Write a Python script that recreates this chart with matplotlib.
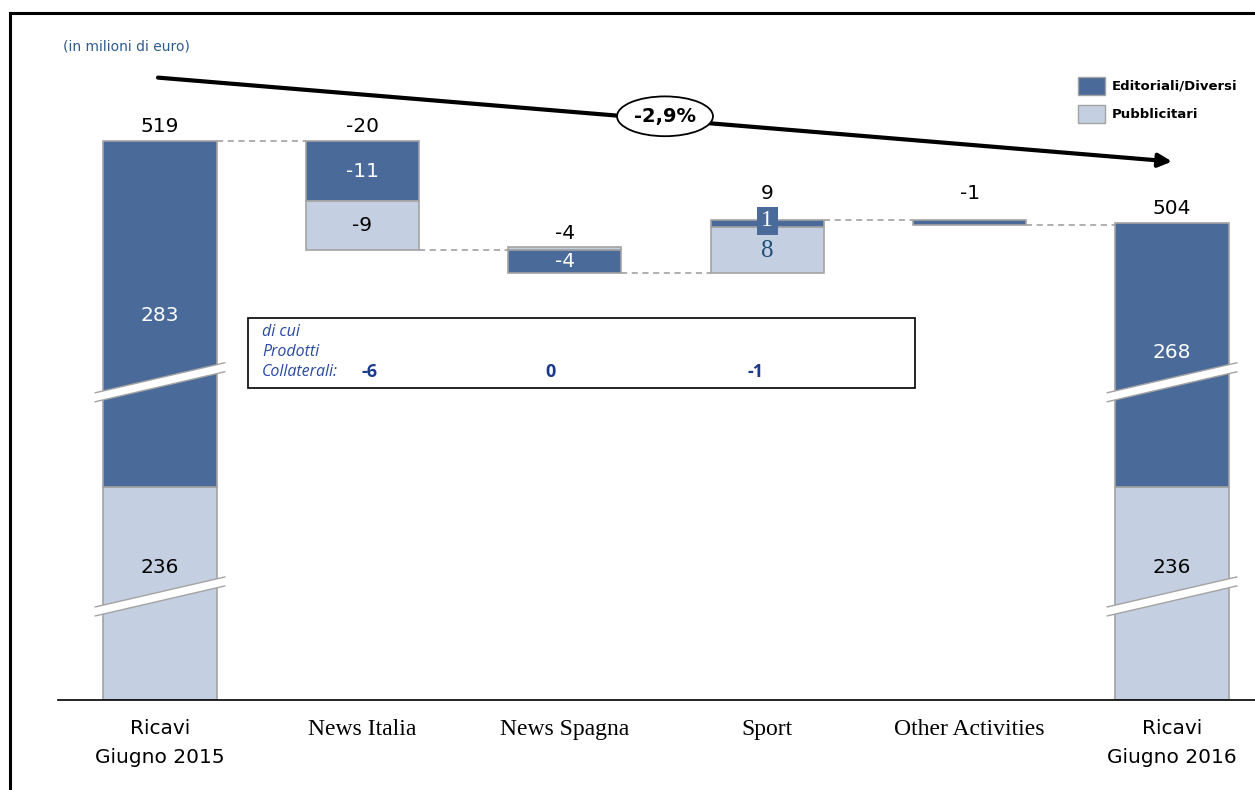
import matplotlib
matplotlib.use("Agg")
import matplotlib.pyplot as plt
from matplotlib.patches import Rectangle, Polygon, Ellipse
from matplotlib.lines import Line2D

# ---------------- data (milioni di euro) ----------------
categories = ["Ricavi\nGiugno 2015", "News Italia", "News Spagna", "Sport",
              "Other Activities", "Ricavi\nGiugno 2016"]
# totals: (pubblicitari, editoriali/diversi)
total_start = (236, 283)
total_end = (236, 268)
# changes per segment: (pubblicitari, editoriali/diversi)
delta_pub = [-9, 0.6, 8.4, 0]
delta_edit = [-11, -4.2, 1.4, -1.0]
delta_labels = ["-20", "-4", "9", "-1"]
pub_labels = ["-9", None, "8", None]
edit_labels = ["-11", "-4", "1", None]
collaterali = ["-6", "0", "-1"]
growth_label = "-2,9%"

DARK = "#4a6a9a"
LIGHT = "#c4cfe1"
EDGE = "#a3a3a3"

# vertical axis is broken on the total bars
CUT_LIGHT = 197.0
CUT_DARK = 219.5
BASE = CUT_LIGHT + CUT_DARK

W, H = 1255, 790
fig = plt.figure(figsize=(W / 100, H / 100), dpi=100)


def fx(x):
    return x / W


def fy(y):
    return 1 - y / H


ax = fig.add_axes([fx(58), fy(700), fx(1255 - 58), (700 - 20) / H])
ax.set_xlim(-0.504, 5.41)
ax.set_ylim(BASE, BASE + 680 / 5.45)
for s in ["left", "right", "top"]:
    ax.spines[s].set_visible(False)
ax.spines["bottom"].set_linewidth(1.2)
ax.set_yticks([])

bw = 0.56
num_font = "DejaVu Sans"
cat_font = "Liberation Serif"
NUM_SIZE = 14.5
label_pad = [4, 3, 12, 12]   # points above each delta bar


def total_bar(x, pub, edit, edit_y):
    lo = BASE
    mid = lo + pub - CUT_LIGHT
    top = mid + edit - CUT_DARK
    ax.bar(x, mid - lo, bw, bottom=lo, color=LIGHT, edgecolor=EDGE, lw=1.2, zorder=2)
    ax.bar(x, top - mid, bw, bottom=mid, color=DARK, edgecolor=EDGE, lw=1.2, zorder=2)
    ax.text(x, 440.9, str(pub), ha="center", va="center", fontsize=NUM_SIZE,
            family=num_font, color="black", zorder=5)
    ax.text(x, edit_y, str(edit), ha="center", va="center", fontsize=NUM_SIZE,
            family=num_font, color="white", zorder=5)
    ax.annotate(str(pub + edit), (x, top), xytext=(0, 4), textcoords="offset points",
                ha="center", va="bottom", fontsize=NUM_SIZE, family=num_font)
    # break marks
    for cy in (474.8, 435.5):
        dx, rise, th = 0.32, 5.5, 1.65
        pts = [(x - dx, cy - rise / 2 - th / 2), (x + dx, cy + rise / 2 - th / 2),
               (x + dx, cy + rise / 2 + th / 2), (x - dx, cy - rise / 2 + th / 2)]
        ax.add_patch(Polygon(pts, closed=True, fc="white", ec="none", zorder=3))
        ax.plot([pts[0][0], pts[1][0]], [pts[0][1], pts[1][1]], color=EDGE, lw=1, zorder=4)
        ax.plot([pts[3][0], pts[2][0]], [pts[3][1], pts[2][1]], color=EDGE, lw=1, zorder=4)
    return top


top0 = total_bar(0, total_start[0], total_start[1], 487.0)

# waterfall segments
level = top0
levels = [level]
for i in range(4):
    x = i + 1
    p, e = delta_pub[i], delta_edit[i]
    if i == 1:
        # small positive pubblicitari strip above the starting level
        ax.bar(x, p, bw, bottom=level, color=LIGHT, edgecolor=EDGE, lw=1.2, zorder=2)
        ax.bar(x, e, bw, bottom=level, color=DARK, edgecolor=EDGE, lw=1.2, zorder=2)
        ax.text(x, level + e / 2, edit_labels[i], ha="center", va="center",
                fontsize=NUM_SIZE, family=num_font, color="white", zorder=5)
        top_lbl = level + p
        level = level + e
    elif p >= 0 and e >= 0:
        ax.bar(x, p, bw, bottom=level, color=LIGHT, edgecolor=EDGE, lw=1.2, zorder=2)
        ax.bar(x, e, bw, bottom=level + p, color=DARK, edgecolor=EDGE, lw=1.2, zorder=2)
        ax.text(x, level + p / 2 - 0.2, pub_labels[i], ha="center", va="center",
                fontsize=18, family=cat_font, color="#1f4e79", zorder=5)
        cy = level + p + e / 2 + 0.5
        ax.add_patch(Rectangle((x - 0.052, cy - 2.6), 0.104, 5.2, fc=DARK, ec="none", zorder=5))
        ax.text(x, cy, edit_labels[i], ha="center", va="center",
                fontsize=17, family=cat_font, color="white", zorder=6)
        level = level + p + e
        top_lbl = level
    else:
        top_lbl = level
        if e != 0:
            ax.bar(x, e, bw, bottom=level, color=DARK, edgecolor=EDGE, lw=1.2, zorder=2)
            if edit_labels[i]:
                ax.text(x, level + e / 2, edit_labels[i], ha="center", va="center",
                        fontsize=NUM_SIZE, family=num_font, color="white", zorder=5)
        if p != 0:
            ax.bar(x, p, bw, bottom=level + e, color=LIGHT, edgecolor=EDGE, lw=1.2, zorder=2)
            ax.text(x, level + e + p / 2, pub_labels[i], ha="center", va="center",
                    fontsize=NUM_SIZE, family=num_font, color="black", zorder=5)
        level = level + p + e
    ax.annotate(delta_labels[i], (x, top_lbl), xytext=(0, label_pad[i]),
                textcoords="offset points", ha="center", va="bottom",
                fontsize=NUM_SIZE, family=num_font)
    levels.append(level)

total_bar(5, total_end[0], total_end[1], 480.2)
levels.append(sum(total_end))

# dashed connectors
for i in range(5):
    ax.plot([i + bw / 2, i + 1 - bw / 2], [levels[i], levels[i]],
            color="#9a9a9a", lw=1.1, ls=(0, (4, 3)), zorder=1)

# category labels
ax.set_xticks(range(6))
ax.set_xticklabels(categories)
ax.tick_params(axis="x", length=0, pad=14)
for i, t in enumerate(ax.get_xticklabels()):
    if i in (0, 5):
        t.set_family(num_font)
        t.set_fontsize(14.5)
        t.set_linespacing(1.65)
    else:
        t.set_family(cat_font)
        t.set_fontsize(17)

# overall trend arrow with growth bubble
ax.annotate("", xy=(5.0, 515.3), xytext=(-0.01, 530.7),
            arrowprops=dict(arrowstyle="-|>", color="black", lw=3,
                            mutation_scale=20, shrinkA=0, shrinkB=0), zorder=6)
ax.add_patch(Ellipse((2.495, 523.6), 0.474, 7.3, fc="white", ec="black", lw=1.3, zorder=7))
ax.text(2.495, 523.6, growth_label, ha="center", va="center", fontsize=14,
        fontweight="bold", family=num_font, zorder=8)

# legend
for j, (col, lab) in enumerate([(DARK, "Editoriali/Diversi"), (LIGHT, "Pubblicitari")]):
    y0 = 77 + j * 28
    fig.patches.append(Rectangle((fx(1078), fy(y0 + 18)), fx(27), 18 / H,
                                 transform=fig.transFigure, fc=col, ec=EDGE, lw=1))
    fig.text(fx(1112), fy(y0 + 9), lab, ha="left", va="center", fontsize=9.5,
             fontweight="bold", family=num_font)

# "di cui" note box
fig.patches.append(Rectangle((fx(248), fy(388)), fx(915 - 248), (388 - 318) / H,
                             transform=fig.transFigure, fc="white", ec="black", lw=1.2,
                             zorder=9))
NOTE_C = "#2a4aa0"
for txt, yy in [("di cui", 332), ("Prodotti", 352), ("Collaterali:", 372)]:
    fig.text(fx(262), fy(yy), txt, ha="left", va="center", fontsize=11.5,
             style="italic", family="Open Sans", color=NOTE_C, zorder=10)
for val, xx in zip(collaterali, [370, 550, 756]):
    fig.text(fx(xx), fy(372), val, ha="center", va="center", fontsize=13,
             fontweight="bold", family="Open Sans", color="#1c3a8c", zorder=10)

fig.text(fx(63), fy(47), "(in milioni di euro)", ha="left", va="center",
         fontsize=10, family=num_font, color="#2e5b8c")

# outer frame (left and top edges)
fig.lines.append(Line2D([fx(10), fx(10)], [0, fy(13)], transform=fig.transFigure,
                        color="black", lw=2.2))
fig.lines.append(Line2D([fx(10), 1], [fy(13), fy(13)], transform=fig.transFigure,
                        color="black", lw=2.2))

fig.savefig("out.png", dpi=100)
